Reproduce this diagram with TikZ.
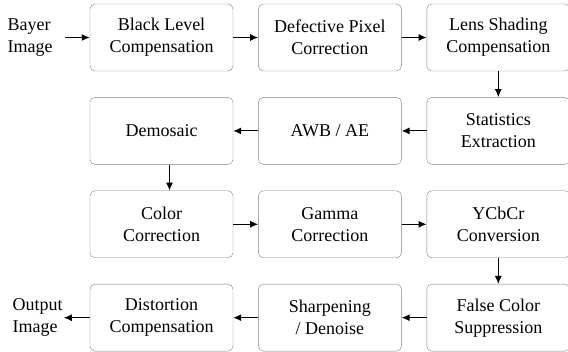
\documentclass[tikz,border=0pt]{standalone}
\usepackage{fontspec}
\setmainfont{Liberation Serif}
\usetikzlibrary{arrows.meta, positioning}

\begin{document}
\begin{tikzpicture}[
  x=1pt, y=1pt,
  node distance=26pt and 25pt,
  box/.style={
    draw=gray,
    rectangle,
    rounded corners=5pt,
    align=center,
    minimum height=67pt,
    minimum width=143pt,
    font=\fontsize{18}{22}\selectfont
  },
  io/.style={
    align=left,
    inner ysep=2pt,
    font=\fontsize{18}{22}\selectfont
  },
  arrow/.style={-{Latex[length=8pt,width=7pt]}, line width=1.2pt}
]
\useasboundingbox (0,0) rectangle (568,-352);

\node[box] (blc) at (161.5,-37.5) {Black Level\\Compensation};
\node[box, right=of blc] (dpc) {Defective Pixel\\Correction};
\node[box, right=of dpc] (lsc) {Lens Shading\\Compensation};
\node[box, below=of lsc] (stat) {Statistics\\Extraction};
\node[box, below=of dpc] (awb) {AWB / AE};
\node[box, below=of blc] (dem) {Demosaic};
\node[box, below=of dem] (ccm) {Color\\Correction};
\node[box, right=of ccm] (gam) {Gamma\\Correction};
\node[box, right=of gam] (ycc) {YCbCr\\Conversion};
\node[box, below=of ycc] (fcs) {False Color\\Suppression};
\node[box, below=of gam] (shp) {Sharpening\\/ Denoise};
\node[box, below=of ccm] (dis) {Distortion\\Compensation};

\node[io, inner xsep=12pt, left=25pt of blc] (bayer) {Bayer\\Image};
\node[io, inner xsep=1pt, left=26pt of dis] (out) {Output\\Image};

\draw[arrow] (bayer.east) -- (blc.west);
\draw[arrow] (blc.east) -- (dpc.west);
\draw[arrow] (dpc.east) -- (lsc.west);
\draw[arrow] (lsc.south) -- (stat.north);
\draw[arrow] (stat.west) -- (awb.east);
\draw[arrow] (awb.west) -- (dem.east);
\draw[arrow] ([xshift=8pt]dem.south) -- ([xshift=8pt]ccm.north);
\draw[arrow] (ccm.east) -- (gam.west);
\draw[arrow] (gam.east) -- (ycc.west);
\draw[arrow] (ycc.south) -- (fcs.north);
\draw[arrow] (fcs.west) -- (shp.east);
\draw[arrow] (shp.west) -- (dis.east);
\draw[arrow] (dis.west) -- (out.east);

\end{tikzpicture}
\end{document}
